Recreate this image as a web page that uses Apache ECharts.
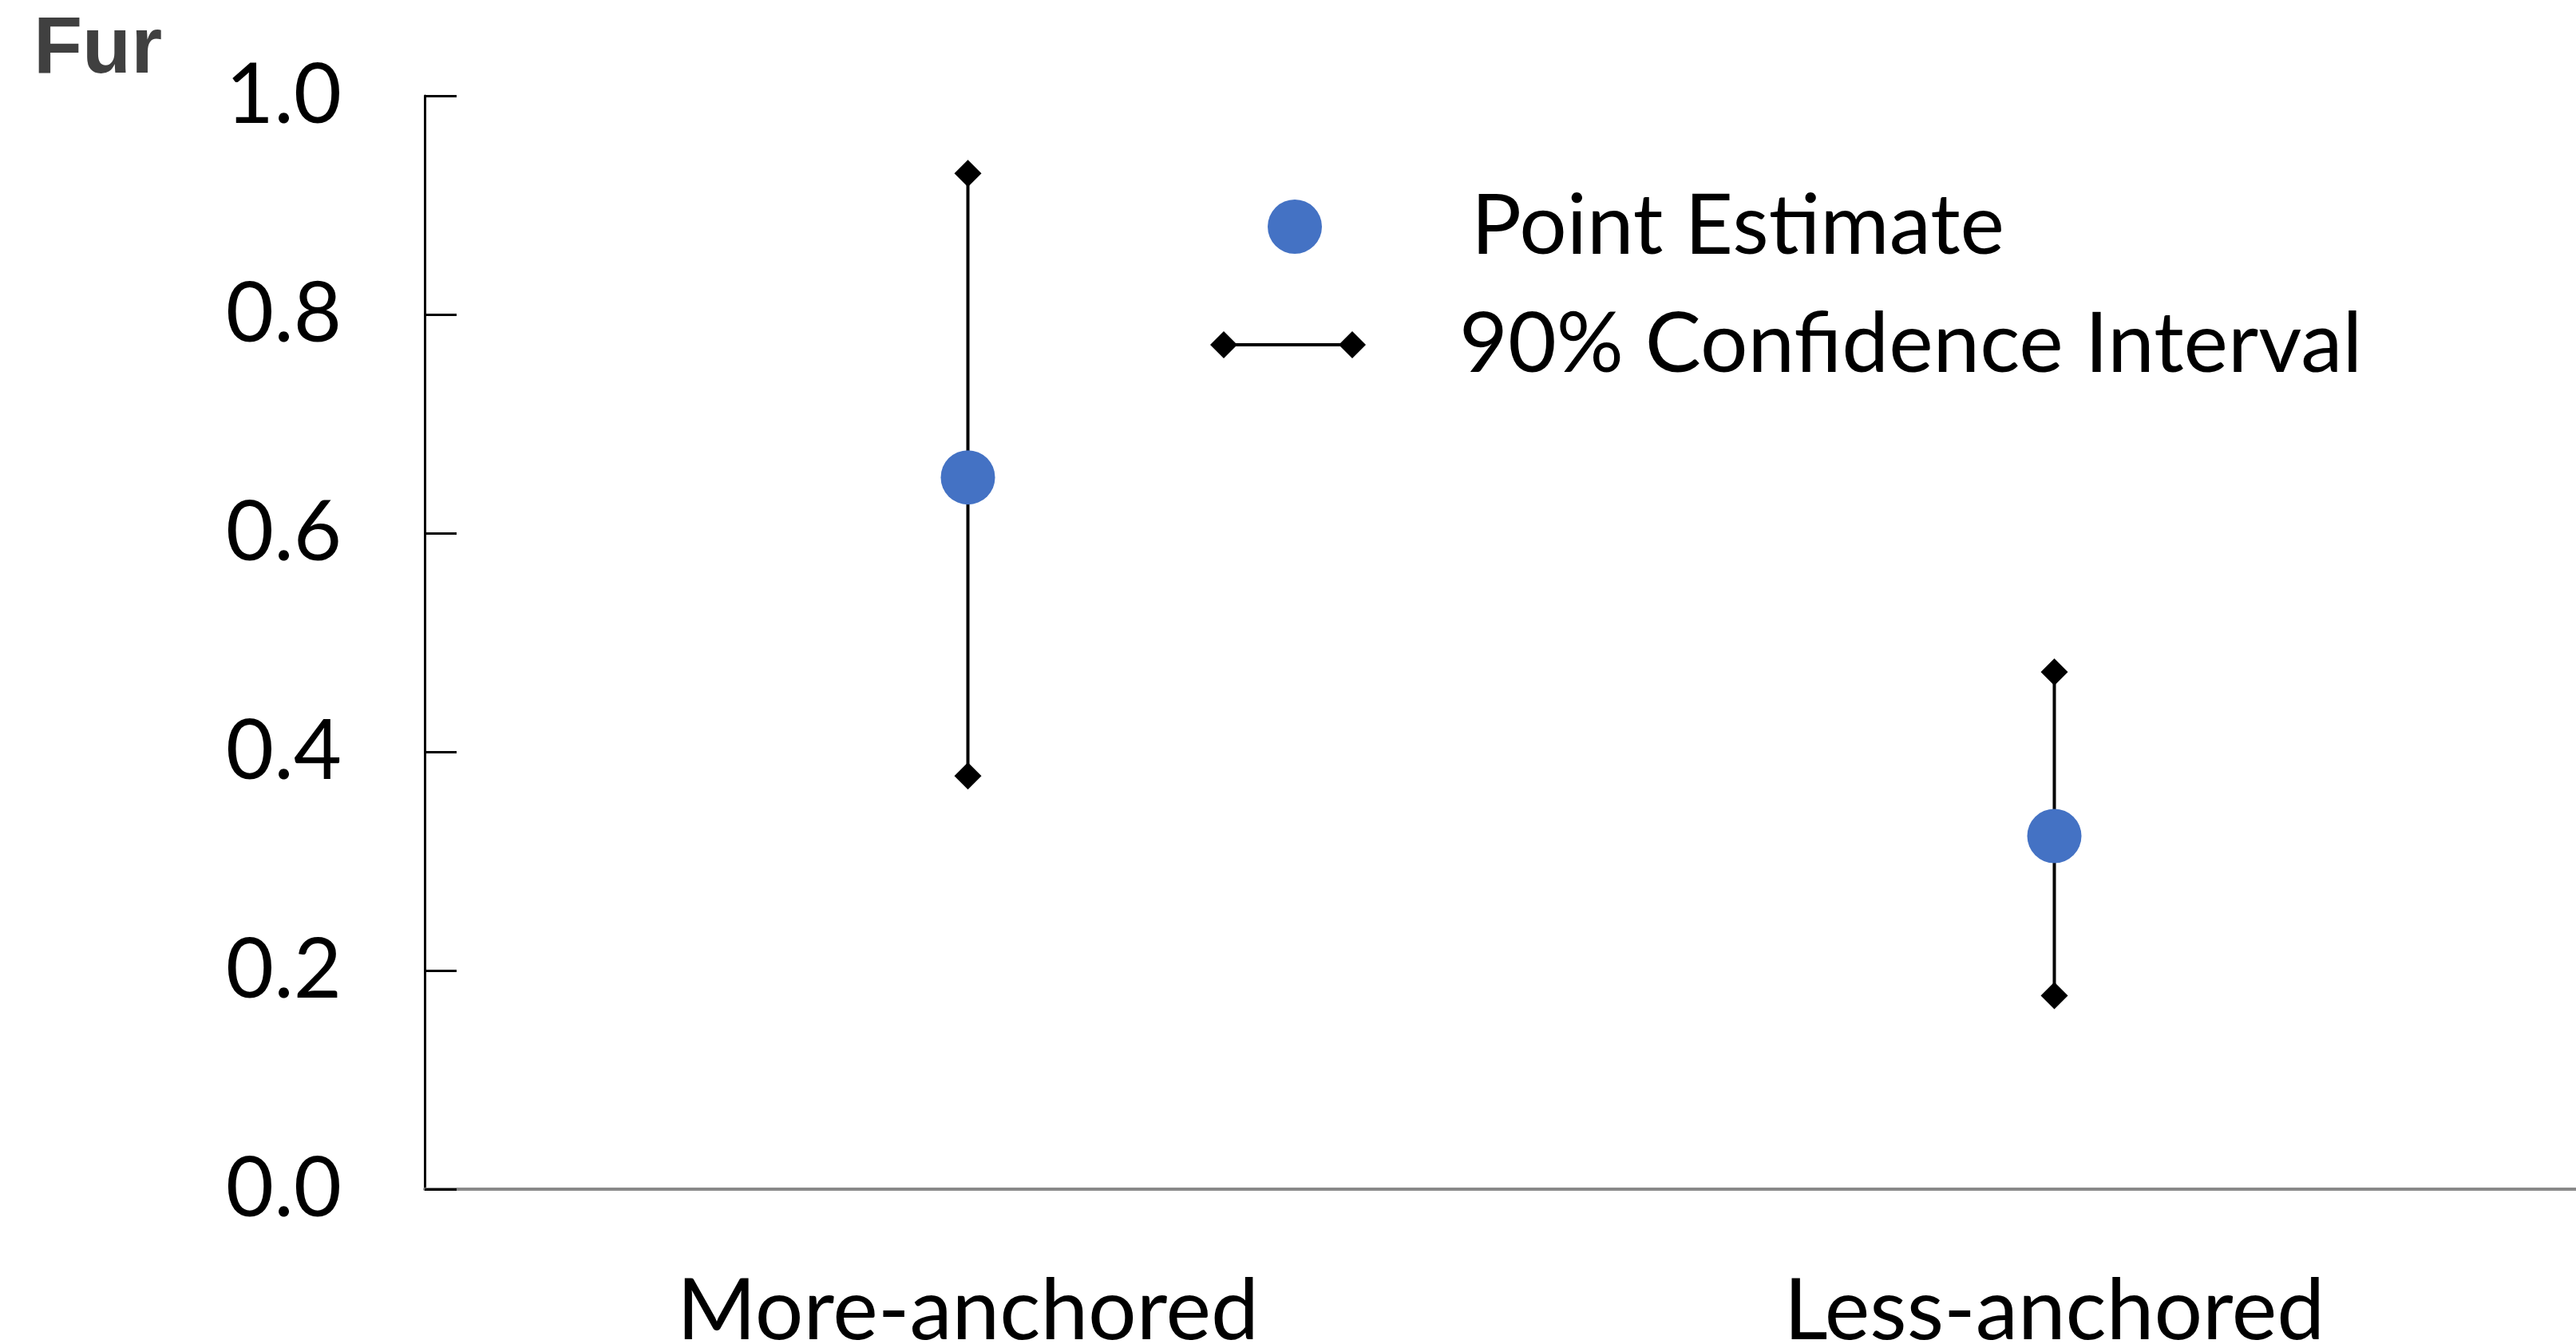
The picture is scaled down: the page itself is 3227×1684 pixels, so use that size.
<!DOCTYPE html>
<html>
<head>
<meta charset="utf-8">
<script src="https://cdn.jsdelivr.net/npm/echarts@6/dist/echarts.min.js"></script>
<style>
  html, body { margin: 0; padding: 0; background: #fff; }
  #chart { width: 3227px; height: 1684px; }
</style>
</head>
<body>
<div id="chart"></div>
<script>
// Groups on the horizontal axis
const categories = ['More-anchored', 'Less-anchored'];
// Point estimates and the 90% confidence bounds per group
const pointEstimate = [0.651, 0.323];
const ciLower = [0.378, 0.177];
const ciUpper = [0.929, 0.473];
// Value axis ticks
const yTicks = [0.0, 0.2, 0.4, 0.6, 0.8, 1.0];

const FONT = 'Lato';
const BLUE = '#4472C4';

const chart = echarts.init(document.getElementById('chart'), null, { renderer: 'canvas' });

function diamond(cx, cy, h) {
  return {
    type: 'polygon',
    shape: { points: [[cx, cy - h], [cx + h, cy], [cx, cy + h], [cx - h, cy]] },
    style: { fill: '#000' }
  };
}

const option = {
  backgroundColor: '#fff',
  animation: false,
  title: {
    text: 'Fur',
    left: 37,
    top: 8,
    textStyle: { fontFamily: 'Liberation Sans', fontWeight: 'bold', fontSize: 100, color: '#404040' }
  },
  // plot area runs slightly past the right edge of the canvas
  grid: {
    left: 532, top: 120, bottom: 194, width: 2722,
    containLabel: false, outerBoundsMode: 'none'
  },
  xAxis: {
    type: 'category',
    data: categories,
    boundaryGap: true,
    axisLine: { lineStyle: { color: '#898989', width: 4 } },
    axisTick: { show: false },
    axisLabel: { fontFamily: FONT, fontSize: 107, color: '#000', margin: 100 },
    splitLine: { show: false }
  },
  yAxis: {
    type: 'value',
    min: yTicks[0],
    max: yTicks[yTicks.length - 1],
    interval: 0.2,
    axisLine: { show: true, lineStyle: { color: '#000', width: 3 } },
    axisTick: { show: true, inside: true, length: 40, lineStyle: { color: '#000', width: 3 } },
    axisLabel: {
      fontFamily: FONT, fontSize: 104, color: '#000', margin: 104,
      formatter: v => v.toFixed(1)
    },
    splitLine: { show: false }
  },
  graphic: [
    // legend: point estimate
    { type: 'circle', shape: { cx: 1622, cy: 284, r: 34 }, style: { fill: BLUE } },
    { type: 'text', x: 1843, y: 284,
      style: { text: 'Point Estimate', fontFamily: FONT, fontSize: 105, fill: '#000', textVerticalAlign: 'middle' } },
    // legend: confidence interval
    { type: 'line', shape: { x1: 1533, y1: 432, x2: 1694, y2: 432 }, style: { stroke: '#000', lineWidth: 4 } },
    diamond(1533, 432, 17),
    diamond(1694, 432, 17),
    { type: 'text', x: 1828, y: 432,
      style: { text: '90% Confidence Interval', fontFamily: FONT, fontSize: 105, fill: '#000', textVerticalAlign: 'middle' } }
  ],
  series: [
    {
      name: '90% Confidence Interval',
      type: 'custom',
      z: 2,
      data: categories.map((c, i) => [i, ciLower[i], ciUpper[i]]),
      encode: { x: 0, y: [1, 2] },
      renderItem: function (params, api) {
        const i = api.value(0);
        const lo = api.coord([i, api.value(1)]);
        const hi = api.coord([i, api.value(2)]);
        return {
          type: 'group',
          children: [
            { type: 'line', shape: { x1: lo[0], y1: lo[1], x2: hi[0], y2: hi[1] }, style: { stroke: '#000', lineWidth: 4 } },
            diamond(hi[0], hi[1], 17),
            diamond(lo[0], lo[1], 17)
          ]
        };
      }
    },
    {
      name: 'Point Estimate',
      type: 'scatter',
      z: 3,
      symbol: 'circle',
      symbolSize: 68,
      itemStyle: { color: BLUE, opacity: 1 },
      data: pointEstimate
    }
  ]
};

chart.setOption(option);
</script>
</body>
</html>
